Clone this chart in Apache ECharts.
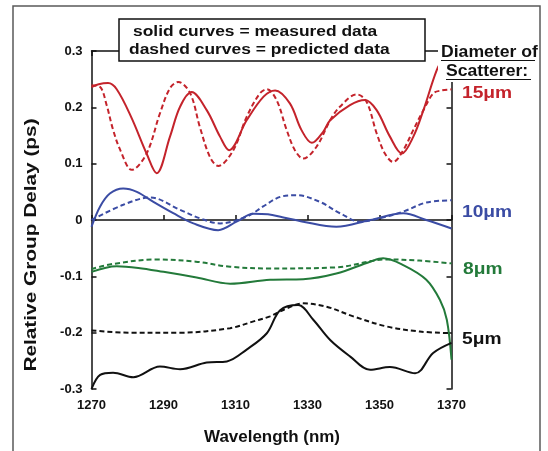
<!DOCTYPE html>
<html>
<head>
<meta charset="utf-8">
<script src="https://cdn.jsdelivr.net/npm/echarts@6/dist/echarts.min.js"></script>
<style>
html,body{margin:0;padding:0;background:#fff;}
#chart{width:548px;height:451px;}
</style>
</head>
<body>
<div id="chart"></div>
<script>
// ---- data ----
const wl15Measured = [1270, 1272, 1274.6, 1277, 1281, 1285.3, 1288.1, 1291.8, 1294.6, 1297.8, 1302, 1305.7, 1308.2, 1313.1, 1317.8, 1321, 1325.1, 1328.3, 1331.2, 1334.4, 1336.3, 1341.8, 1346, 1349.2, 1352.9, 1356.2, 1359.4, 1362.2, 1365.9, 1368];
const gd15Measured = [0.236, 0.241, 0.243, 0.232, 0.183, 0.118, 0.083, 0.148, 0.201, 0.227, 0.195, 0.148, 0.124, 0.177, 0.219, 0.230, 0.207, 0.160, 0.137, 0.157, 0.177, 0.204, 0.213, 0.195, 0.148, 0.118, 0.148, 0.195, 0.266, 0.29];

const wl15Predicted = [1270, 1272.4, 1274.2, 1276, 1278, 1281.2, 1285.3, 1289, 1291.8, 1294.1, 1297.4, 1300.1, 1302.9, 1305.2, 1309.4, 1313.1, 1316.8, 1318.7, 1321.4, 1324.2, 1326.5, 1328.8, 1332.5, 1336.3, 1339, 1343.7, 1346.4, 1349.2, 1351.5, 1353.8, 1356.6, 1359.4, 1362.2, 1365, 1367.3, 1370];
const gd15Predicted = [0.239, 0.236, 0.204, 0.160, 0.124, 0.089, 0.118, 0.189, 0.234, 0.245, 0.225, 0.165, 0.112, 0.096, 0.124, 0.183, 0.225, 0.232, 0.213, 0.160, 0.124, 0.109, 0.130, 0.177, 0.201, 0.223, 0.210, 0.154, 0.118, 0.103, 0.124, 0.160, 0.195, 0.225, 0.230, 0.232];

const wl10Measured = [1270, 1272.4, 1275.1, 1278.8, 1282.6, 1287.2, 1292.7, 1298.3, 1305.2, 1310.3, 1314.9, 1319, 1323, 1328.8, 1338, 1347.4, 1356.6, 1363, 1370];
const gd10Measured = [-0.012, 0.024, 0.047, 0.056, 0.050, 0.032, 0.012, -0.006, -0.018, -0.003, 0.011, 0.010, 0.005, -0.003, -0.012, 0.000, 0.012, 0.000, -0.015];

const wl10Predicted = [1270, 1278.8, 1286.3, 1294.6, 1300.1, 1305.7, 1313.1, 1317.7, 1322.4, 1327, 1333.5, 1339, 1344.6, 1350, 1356.6, 1363, 1370];
const gd10Predicted = [0.000, 0.027, 0.040, 0.018, 0.003, -0.006, 0.006, 0.024, 0.041, 0.044, 0.032, 0.012, -0.003, 0.003, 0.015, 0.031, 0.035];

const wl8Measured = [1270, 1277, 1283, 1290, 1299.2, 1308.5, 1319.6, 1328.8, 1338, 1347.4, 1351, 1356.6, 1363, 1366.8, 1368.7, 1370];
const gd8Measured = [-0.092, -0.082, -0.085, -0.092, -0.102, -0.113, -0.106, -0.105, -0.095, -0.074, -0.068, -0.080, -0.106, -0.142, -0.177, -0.248];

const wl8Predicted = [1270, 1276, 1288, 1299, 1308.5, 1320, 1338, 1352, 1361, 1370];
const gd8Predicted = [-0.087, -0.078, -0.070, -0.074, -0.083, -0.086, -0.084, -0.070, -0.072, -0.077];

const wl5Measured = [1270, 1272.4, 1276, 1281.6, 1289, 1294.6, 1302, 1307.6, 1313.1, 1318.7, 1322.4, 1327.4, 1331.6, 1336.3, 1341.8, 1347.4, 1352.9, 1359.9, 1364.9, 1370];
const gd5Measured = [-0.300, -0.275, -0.271, -0.279, -0.260, -0.265, -0.253, -0.251, -0.230, -0.201, -0.160, -0.151, -0.177, -0.213, -0.242, -0.266, -0.261, -0.272, -0.236, -0.218];

const wl5Predicted = [1270, 1280.5, 1294.6, 1308.5, 1315, 1319.6, 1324.2, 1328.8, 1335.3, 1342.7, 1352, 1361.2, 1370];
const gd5Predicted = [-0.196, -0.200, -0.200, -0.192, -0.180, -0.171, -0.157, -0.148, -0.154, -0.171, -0.189, -0.198, -0.201];

const diameterLabels = ['15\u03bcm', '10\u03bcm', '8\u03bcm', '5\u03bcm'];
const legendLines = ['solid curves = measured data', 'dashed curves = predicted data'];
const xTitle = 'Wavelength (nm)';
const yTitle = 'Relative Group Delay (ps)';

// ---- styling ----
const RED = '#c4232b', BLUE = '#3b4ca4', GREEN = '#237a3a', BLACK = '#111111';
const FONT = '"Liberation Sans", Arial, Helvetica, sans-serif';
const zip = (xs, ys) => xs.map((x, i) => [x, ys[i]]);

function curve(name, xs, ys, color, dashed) {
  return {
    name, type: 'line', data: zip(xs, ys), showSymbol: false, smooth: 0.35,
    xAxisIndex: 0, yAxisIndex: 0, silent: true, z: 5,
    lineStyle: { color, width: 2, type: dashed ? [5, 3] : 'solid' }
  };
}

const chart = echarts.init(document.getElementById('chart'), null, { renderer: 'canvas' });
const axisLineStyle = { color: '#111', width: 1.5 };
const labelStyle = { color: '#111', fontWeight: 'bold', fontSize: 13, fontFamily: FONT };

const option = {
  animation: false,
  backgroundColor: '#fff',
  grid: { left: 91.5, top: 51, width: 360, height: 338, containLabel: false },
  xAxis: [
    { type: 'value', min: 1270, max: 1370, interval: 20, position: 'bottom',
      axisLine: { show: true, lineStyle: axisLineStyle },
      axisTick: { show: true, inside: true, length: 5, lineStyle: axisLineStyle },
      axisLabel: Object.assign({ margin: 10, formatter: v => String(Math.round(v)) }, labelStyle),
      splitLine: { show: false } },
    { type: 'value', min: 1270, max: 1370, interval: 20, position: 'top',
      axisLine: { show: true, onZero: false, lineStyle: axisLineStyle },
      axisTick: { show: true, inside: true, length: 5, lineStyle: axisLineStyle },
      axisLabel: { show: false }, splitLine: { show: false } }
  ],
  yAxis: [
    { type: 'value', min: -0.3, max: 0.3, interval: 0.1, position: 'left',
      axisLine: { show: true, onZero: false, lineStyle: axisLineStyle },
      axisTick: { show: true, inside: true, length: 5, lineStyle: axisLineStyle },
      axisLabel: Object.assign({ margin: 9, formatter: v => String(Math.round(v * 10) / 10) }, labelStyle),
      splitLine: { show: false } },
    { type: 'value', min: -0.3, max: 0.3, interval: 0.1, position: 'right',
      axisLine: { show: true, onZero: false, lineStyle: axisLineStyle },
      axisTick: { show: true, inside: true, length: 5, lineStyle: axisLineStyle },
      axisLabel: { show: false }, splitLine: { show: false } }
  ],
  series: [
    curve('15 measured', wl15Measured, gd15Measured, RED, false),
    curve('15 predicted', wl15Predicted, gd15Predicted, RED, true),
    curve('10 measured', wl10Measured, gd10Measured, BLUE, false),
    curve('10 predicted', wl10Predicted, gd10Predicted, BLUE, true),
    curve('8 measured', wl8Measured, gd8Measured, GREEN, false),
    curve('8 predicted', wl8Predicted, gd8Predicted, GREEN, true),
    curve('5 measured', wl5Measured, gd5Measured, BLACK, false),
    curve('5 predicted', wl5Predicted, gd5Predicted, BLACK, true)
  ],
  graphic: { elements: [
    // outer frame
    { type: 'rect', z: 1, silent: true, shape: { x: 13, y: 6, width: 527, height: 480 },
      style: { fill: 'none', stroke: '#5a5a5a', lineWidth: 1.5 } },
    // white patch behind the header on the right
    { type: 'rect', z: 100, silent: true, shape: { x: 438, y: 43, width: 100, height: 39 },
      style: { fill: '#fff', stroke: 'none' } },
    // legend box
    { type: 'rect', z: 100, silent: true, shape: { x: 119, y: 19, width: 306, height: 42 },
      style: { fill: '#fff', stroke: '#111', lineWidth: 1.5 } },
    { type: 'text', z: 101, silent: true, x: 133, y: 32, scaleX: 1.16,
      style: { text: legendLines[0], font: 'bold 15px ' + FONT, fill: '#111', textAlign: 'left', textVerticalAlign: 'middle' } },
    { type: 'text', z: 101, silent: true, x: 129, y: 50, scaleX: 1.16,
      style: { text: legendLines[1], font: 'bold 15px ' + FONT, fill: '#111', textAlign: 'left', textVerticalAlign: 'middle' } },
    // header "Diameter of Scatterer:"
    { type: 'text', z: 101, silent: true, x: 441, y: 53, scaleX: 1.1,
      style: { text: 'Diameter of', font: 'bold 16px ' + FONT, fill: '#111', textAlign: 'left', textVerticalAlign: 'middle' } },
    { type: 'line', z: 101, silent: true, shape: { x1: 441, y1: 60.5, x2: 535, y2: 60.5 }, style: { stroke: '#111', lineWidth: 1.2 } },
    { type: 'text', z: 101, silent: true, x: 446, y: 72, scaleX: 1.1,
      style: { text: 'Scatterer:', font: 'bold 16px ' + FONT, fill: '#111', textAlign: 'left', textVerticalAlign: 'middle' } },
    { type: 'line', z: 101, silent: true, shape: { x1: 446, y1: 79.5, x2: 531, y2: 79.5 }, style: { stroke: '#111', lineWidth: 1.2 } },
    // diameter labels
    { type: 'text', z: 101, silent: true, x: 462, y: 94, scaleX: 1.2,
      style: { text: diameterLabels[0], font: 'bold 16px ' + FONT, fill: RED, textAlign: 'left', textVerticalAlign: 'middle' } },
    { type: 'text', z: 101, silent: true, x: 462, y: 213, scaleX: 1.2,
      style: { text: diameterLabels[1], font: 'bold 16px ' + FONT, fill: BLUE, textAlign: 'left', textVerticalAlign: 'middle' } },
    { type: 'text', z: 101, silent: true, x: 463, y: 270, scaleX: 1.2,
      style: { text: diameterLabels[2], font: 'bold 16px ' + FONT, fill: GREEN, textAlign: 'left', textVerticalAlign: 'middle' } },
    { type: 'text', z: 101, silent: true, x: 462, y: 340, scaleX: 1.2,
      style: { text: diameterLabels[3], font: 'bold 16px ' + FONT, fill: BLACK, textAlign: 'left', textVerticalAlign: 'middle' } },
    // axis titles
    { type: 'text', z: 101, silent: true, x: 272, y: 438, scaleX: 1.06,
      style: { text: xTitle, font: 'bold 16px ' + FONT, fill: '#111', textAlign: 'center', textVerticalAlign: 'middle' } },
    { type: 'text', z: 101, silent: true, x: 32, y: 245, rotation: Math.PI / 2, scaleX: 1.3,
      style: { text: yTitle, font: 'bold 16px ' + FONT, fill: '#111', textAlign: 'center', textVerticalAlign: 'middle' } }
  ] }
};
chart.setOption(option);
</script>
</body>
</html>
